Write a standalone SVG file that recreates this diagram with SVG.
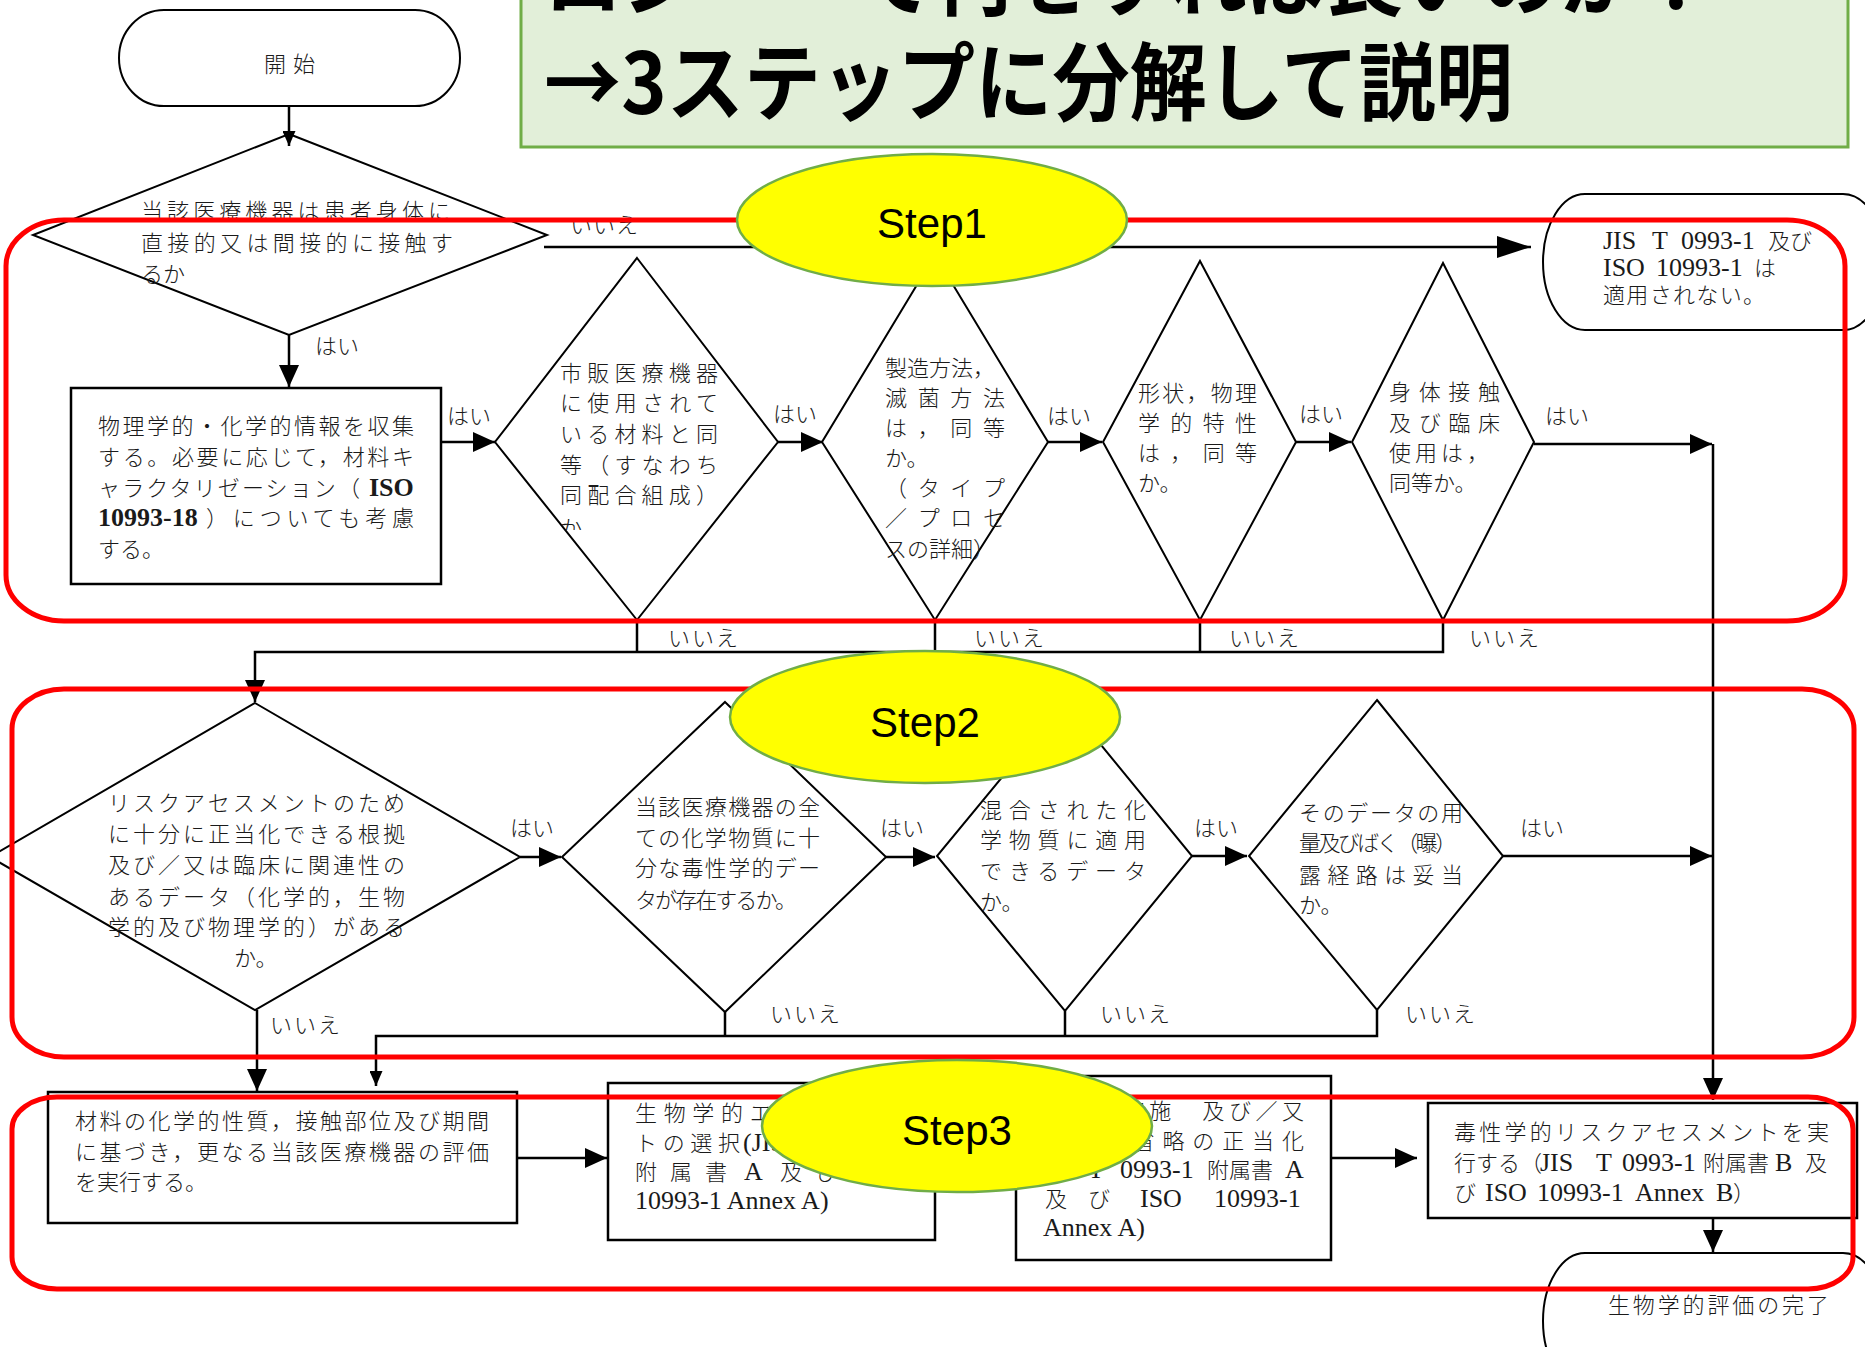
<svg xmlns="http://www.w3.org/2000/svg" width="1865" height="1347" viewBox="0 0 1865 1347">
<style>
.n{fill:#fff;stroke:#000;stroke-width:2}
.b{fill:#fff;stroke:#000;stroke-width:2.5}
.t{font-family:'Noto Sans CJK JP',sans-serif;font-size:22px;font-weight:300;fill:#1a1a1a}
.l{font-family:'Liberation Serif',serif;font-size:26px;fill:#1a1a1a}
.j{font-family:'Noto Sans CJK JP',sans-serif;font-size:22px;font-weight:300;fill:#1a1a1a}
.c{fill:none;stroke:#000;stroke-width:2.5}
.red{fill:none;stroke:#f00;stroke-width:5}
.step{fill:#ff0;stroke:#70ad47;stroke-width:2.5}
.sl{font-family:'Liberation Sans',sans-serif;font-size:42px;text-anchor:middle;fill:#000}
.ttl{font-family:'Noto Sans CJK JP',sans-serif;font-size:85px;font-weight:bold;fill:#000}
</style>
<defs>
<marker id="ah" markerUnits="userSpaceOnUse" viewBox="0 0 22 20" markerWidth="22" markerHeight="20" refX="22" refY="10" orient="auto"><path d="M0,0 L22,10 L0,20 z" fill="#000"/></marker>
<marker id="ahL" markerUnits="userSpaceOnUse" viewBox="0 0 34 22" markerWidth="34" markerHeight="22" refX="34" refY="11" orient="auto"><path d="M0,0 L34,11 L0,22 z" fill="#000"/></marker>
<marker id="ahS" markerUnits="userSpaceOnUse" viewBox="0 0 15 13" markerWidth="15" markerHeight="13" refX="15" refY="6.5" orient="auto"><path d="M0,0 L15,6.5 L0,13 z" fill="#000"/></marker>
<clipPath id="clipKa"><rect x="540" y="500" width="60" height="30"/></clipPath>
</defs>
<rect width="1865" height="1347" fill="#fff"/>

<g id="title">
<rect x="521" y="-10" width="1327" height="157" fill="#e2efd9" stroke="#70ad47" stroke-width="3"/>
<text class="ttl" x="544" y="9" textLength="1172" lengthAdjust="spacingAndGlyphs">ロジー　で何をすれば良いのか？</text>
<text class="ttl" x="544" y="114" textLength="969" lengthAdjust="spacingAndGlyphs">→3ステップに分解して説明</text>
</g>

<g id="start">
<path class="n" d="M164,10 H415 A45,48 0 0 1 415,106 H164 A45,48 0 0 1 164,10 Z"/>
<text class="t" x="264" y="72" textLength="51">開始</text>
</g>

<g id="d1">
<polygon class="n" points="289,134 547,235 289,335 33,235"/>
<text class="t" x="141" y="219" textLength="309">当該医療機器は患者身体に</text>
<text class="t" x="141" y="251" textLength="312">直接的又は間接的に接触す</text>
<text class="t" x="141" y="282">るか</text>
</g>

<g id="notApplicable">
<path class="n" d="M1585,194 H1843 A42,68 0 0 1 1843,330 H1585 A42,68 0 0 1 1585,194 Z"/>
<text class="l" y="249" font-size="24"><tspan x="1603">JIS</tspan><tspan x="1652">T</tspan><tspan x="1681">0993-1</tspan><tspan class="t" x="1768">及び</tspan></text>
<text class="l" y="276" font-size="24"><tspan x="1603">ISO</tspan><tspan x="1656">10993-1</tspan><tspan class="t" x="1754">は</tspan></text>
<text class="t" x="1603" y="303" textLength="162">適用されない。</text>
</g>

<g id="box1">
<rect class="b" x="71" y="388" width="370" height="196"/>
<text class="t" x="98" y="434" textLength="316">物理学的・化学的情報を収集</text>
<text class="t" x="98" y="465" textLength="316">する。必要に応じて，材料キ</text>
<text class="t" x="98" y="496" textLength="262">ャラクタリゼーション（</text>
<text class="l" x="369" y="496" font-weight="bold">ISO</text>
<text class="l" x="98" y="526" font-weight="bold">10993-18</text>
<text class="t" x="206" y="526" textLength="208">）についても考慮</text>
<text class="t" x="98" y="557">する。</text>
</g>

<g id="d2">
<polygon class="n" points="637,258 778,442 637,620 495,442"/>
<text class="t" x="560" y="381" textLength="158">市販医療機器</text>
<text class="t" x="560" y="411" textLength="158">に使用されて</text>
<text class="t" x="560" y="442" textLength="158">いる材料と同</text>
<text class="t" x="560" y="473" textLength="158">等（すなわち</text>
<text class="t" x="560" y="503" textLength="158">同配合組成）</text>
<text class="t" x="560" y="536" clip-path="url(#clipKa)">か</text>
</g>

<g id="d3">
<polygon class="n" points="935,255 1048,442 935,620 822,442"/>
<text class="t" x="885" y="376">製造方法，</text>
<text class="t" x="885" y="406" textLength="120">滅菌方法</text>
<text class="t" x="885" y="436" textLength="120">は，同等</text>
<text class="t" x="885" y="466">か。</text>
<text class="t" x="885" y="496" textLength="120">（タイプ</text>
<text class="t" x="885" y="526" textLength="120">／プロセ</text>
<text class="t" x="885" y="557">スの詳細）</text>
</g>

<g id="d4">
<polygon class="n" points="1200,261 1296,442 1200,620 1103,442"/>
<text class="t" x="1138" y="401" textLength="119">形状，物理</text>
<text class="t" x="1138" y="431" textLength="119">学的特性</text>
<text class="t" x="1138" y="461" textLength="119">は，同等</text>
<text class="t" x="1138" y="491">か。</text>
</g>

<g id="d5">
<polygon class="n" points="1443,263 1534,442 1443,620 1352,442"/>
<text class="t" x="1389" y="400" textLength="111">身体接触</text>
<text class="t" x="1389" y="431" textLength="111">及び臨床</text>
<text class="t" x="1389" y="461" textLength="100">使用は，</text>
<text class="t" x="1389" y="491">同等か。</text>
</g>

<g id="d6">
<polygon class="n" points="255,703 520,857 255,1010 -10,857"/>
<text class="t" x="108" y="811" textLength="297">リスクアセスメントのため</text>
<text class="t" x="108" y="842" textLength="297">に十分に正当化できる根拠</text>
<text class="t" x="108" y="873" textLength="297">及び／又は臨床に関連性の</text>
<text class="t" x="108" y="905" textLength="297">あるデータ（化学的，生物</text>
<text class="t" x="108" y="935" textLength="297">学的及び物理学的）がある</text>
<text class="t" x="234" y="966">か。</text>
</g>

<g id="d7">
<polygon class="n" points="725,702 886,857 725,1012 562,857"/>
<text class="t" x="635" y="815" textLength="185">当該医療機器の全</text>
<text class="t" x="635" y="846" textLength="185">ての化学物質に十</text>
<text class="t" x="635" y="876" textLength="185">分な毒性学的デー</text>
<text class="t" x="635" y="908" textLength="162">タが存在するか。</text>
</g>

<g id="d8">
<polygon class="n" points="1065,701 1192,856 1065,1011 937,856"/>
<text class="t" x="980" y="818" textLength="166">混合された化</text>
<text class="t" x="980" y="848" textLength="166">学物質に適用</text>
<text class="t" x="980" y="879" textLength="166">できるデータ</text>
<text class="t" x="980" y="910">か。</text>
</g>

<g id="d9">
<polygon class="n" points="1377,700 1503,856 1377,1010 1249,856"/>
<text class="t" x="1299" y="821" textLength="164">そのデータの用</text>
<text class="t" x="1299" y="851" textLength="158">量及びばく（曝）</text>
<text class="t" x="1299" y="883" textLength="164">露経路は妥当</text>
<text class="t" x="1299" y="913">か。</text>
</g>

<g id="boxA">
<rect class="b" x="48" y="1092" width="469" height="131"/>
<text class="t" x="75" y="1129" textLength="414">材料の化学的性質，接触部位及び期間</text>
<text class="t" x="75" y="1160" textLength="414">に基づき，更なる当該医療機器の評価</text>
<text class="t" x="75" y="1190">を実行する。</text>
</g>

<g id="boxB">
<rect class="b" x="608" y="1083" width="327" height="157"/>
<text class="t" x="635" y="1121" textLength="280">生物学的エンドポイン</text>
<text class="t" y="1151"><tspan x="635" textLength="105">トの選択</tspan><tspan class="l" x="743">(JIS T 0993-1</tspan></text>
<text class="t" y="1180"><tspan x="635">附</tspan><tspan x="670">属</tspan><tspan x="705">書</tspan><tspan class="l" x="744">A</tspan><tspan x="780">及</tspan><tspan x="816">び</tspan><tspan class="l" x="860">ISO</tspan></text>
<text class="l" x="635" y="1209">10993-1 Annex A)</text>
</g>

<g id="boxC">
<rect class="b" x="1016" y="1076" width="315" height="184"/>
<text class="t" x="1043" y="1119" textLength="261">試験の実施　及び／又</text>
<text class="t" x="1043" y="1149" textLength="261">は試験省略の正当化</text>
<text class="l" y="1178"><tspan x="1043">(JIS</tspan><tspan x="1088">T</tspan><tspan x="1120">0993-1</tspan><tspan class="t" x="1207">附属書</tspan><tspan x="1285">A</tspan></text>
<text class="t" y="1207"><tspan x="1045">及</tspan><tspan x="1088">び</tspan><tspan class="l" x="1140">ISO</tspan><tspan class="l" x="1214">10993-1</tspan></text>
<text class="l" x="1043" y="1236">Annex A)</text>
</g>

<g id="boxD">
<rect class="b" x="1428" y="1103" width="429" height="115"/>
<text class="t" x="1454" y="1140" textLength="375">毒性学的リスクアセスメントを実</text>
<text class="t" y="1171"><tspan x="1454">行する（</tspan><tspan class="l" x="1540">JIS</tspan><tspan class="l" x="1596">T</tspan><tspan class="l" x="1622">0993-1</tspan><tspan x="1703">附属書</tspan><tspan class="l" x="1775">B</tspan><tspan x="1805">及</tspan></text>
<text class="t" y="1201"><tspan x="1454">び</tspan><tspan class="l" x="1485">ISO</tspan><tspan class="l" x="1537">10993-1</tspan><tspan class="l" x="1635">Annex</tspan><tspan class="l" x="1716">B</tspan><tspan x="1733">）</tspan></text>
</g>

<g id="end">
<path class="n" d="M1585,1253 H1843 A42,68 0 0 1 1843,1389 H1585 A42,68 0 0 1 1585,1253 Z"/>
<text class="t" x="1608" y="1313" textLength="221">生物学的評価の完了</text>
</g>

<g id="connectors">
<path class="c" d="M289,106 V146" marker-end="url(#ahS)"/>
<path class="c" d="M544,247 H1531" marker-end="url(#ahL)"/>
<path class="c" d="M289,335 V387" marker-end="url(#ah)"/>
<path class="c" d="M441,442 H495" marker-end="url(#ah)"/>
<path class="c" d="M778,442 H823" marker-end="url(#ah)"/>
<path class="c" d="M1048,442 H1102" marker-end="url(#ah)"/>
<path class="c" d="M1296,442 H1351" marker-end="url(#ah)"/>
<path class="c" d="M1534,444 H1712" marker-end="url(#ah)"/>
<path class="c" d="M1713,444 V1100" marker-end="url(#ah)"/>
<path class="c" d="M637,620 V652 M935,620 V652 M1200,620 V652"/>
<path class="c" d="M1443,620 V652 H255 V702" marker-end="url(#ah)"/>
<path class="c" d="M520,857 H561" marker-end="url(#ah)"/>
<path class="c" d="M886,857 H935" marker-end="url(#ah)"/>
<path class="c" d="M1192,856 H1247" marker-end="url(#ah)"/>
<path class="c" d="M1503,856 H1712" marker-end="url(#ah)"/>
<path class="c" d="M257,1010 V1091" marker-end="url(#ah)"/>
<path class="c" d="M725,1012 V1036 M1065,1011 V1036"/>
<path class="c" d="M1377,1010 V1036 H376 V1086" marker-end="url(#ahS)"/>
<path class="c" d="M517,1158 H607" marker-end="url(#ah)"/>
<path class="c" d="M935,1158 H1015" marker-end="url(#ah)"/>
<path class="c" d="M1331,1158 H1417" marker-end="url(#ah)"/>
<path class="c" d="M1713,1218 V1252" marker-end="url(#ah)"/>
<text class="j" x="570" y="233" textLength="68">いいえ</text>
<text class="j" x="315" y="354">はい</text>
<text class="j" x="447" y="424">はい</text>
<text class="j" x="773" y="422">はい</text>
<text class="j" x="1047" y="424">はい</text>
<text class="j" x="1299" y="422">はい</text>
<text class="j" x="1545" y="424">はい</text>
<text class="j" x="668" y="646" textLength="70">いいえ</text>
<text class="j" x="974" y="646" textLength="70">いいえ</text>
<text class="j" x="1229" y="646" textLength="70">いいえ</text>
<text class="j" x="1469" y="646" textLength="70">いいえ</text>
<text class="j" x="510" y="836">はい</text>
<text class="j" x="880" y="836">はい</text>
<text class="j" x="1194" y="836">はい</text>
<text class="j" x="1520" y="836">はい</text>
<text class="j" x="270" y="1033" textLength="70">いいえ</text>
<text class="j" x="770" y="1022" textLength="70">いいえ</text>
<text class="j" x="1100" y="1022" textLength="70">いいえ</text>
<text class="j" x="1405" y="1022" textLength="70">いいえ</text>
</g>

<g id="regions">
<rect class="red" x="6" y="220" width="1839" height="401" rx="58" ry="46"/>
<rect class="red" x="12" y="689" width="1842" height="368" rx="52" ry="40"/>
<rect class="red" x="12" y="1097" width="1841" height="192" rx="45" ry="32"/>
</g>

<g id="step1">
<ellipse class="step" cx="932" cy="220" rx="195" ry="66"/>
<text class="sl" x="932" y="238">Step1</text>
</g>
<g id="step2">
<ellipse class="step" cx="925" cy="717" rx="195" ry="66"/>
<text class="sl" x="925" y="737">Step2</text>
</g>
<g id="step3">
<ellipse class="step" cx="957" cy="1126" rx="195" ry="66"/>
<text class="sl" x="957" y="1145">Step3</text>
</g>
</svg>
